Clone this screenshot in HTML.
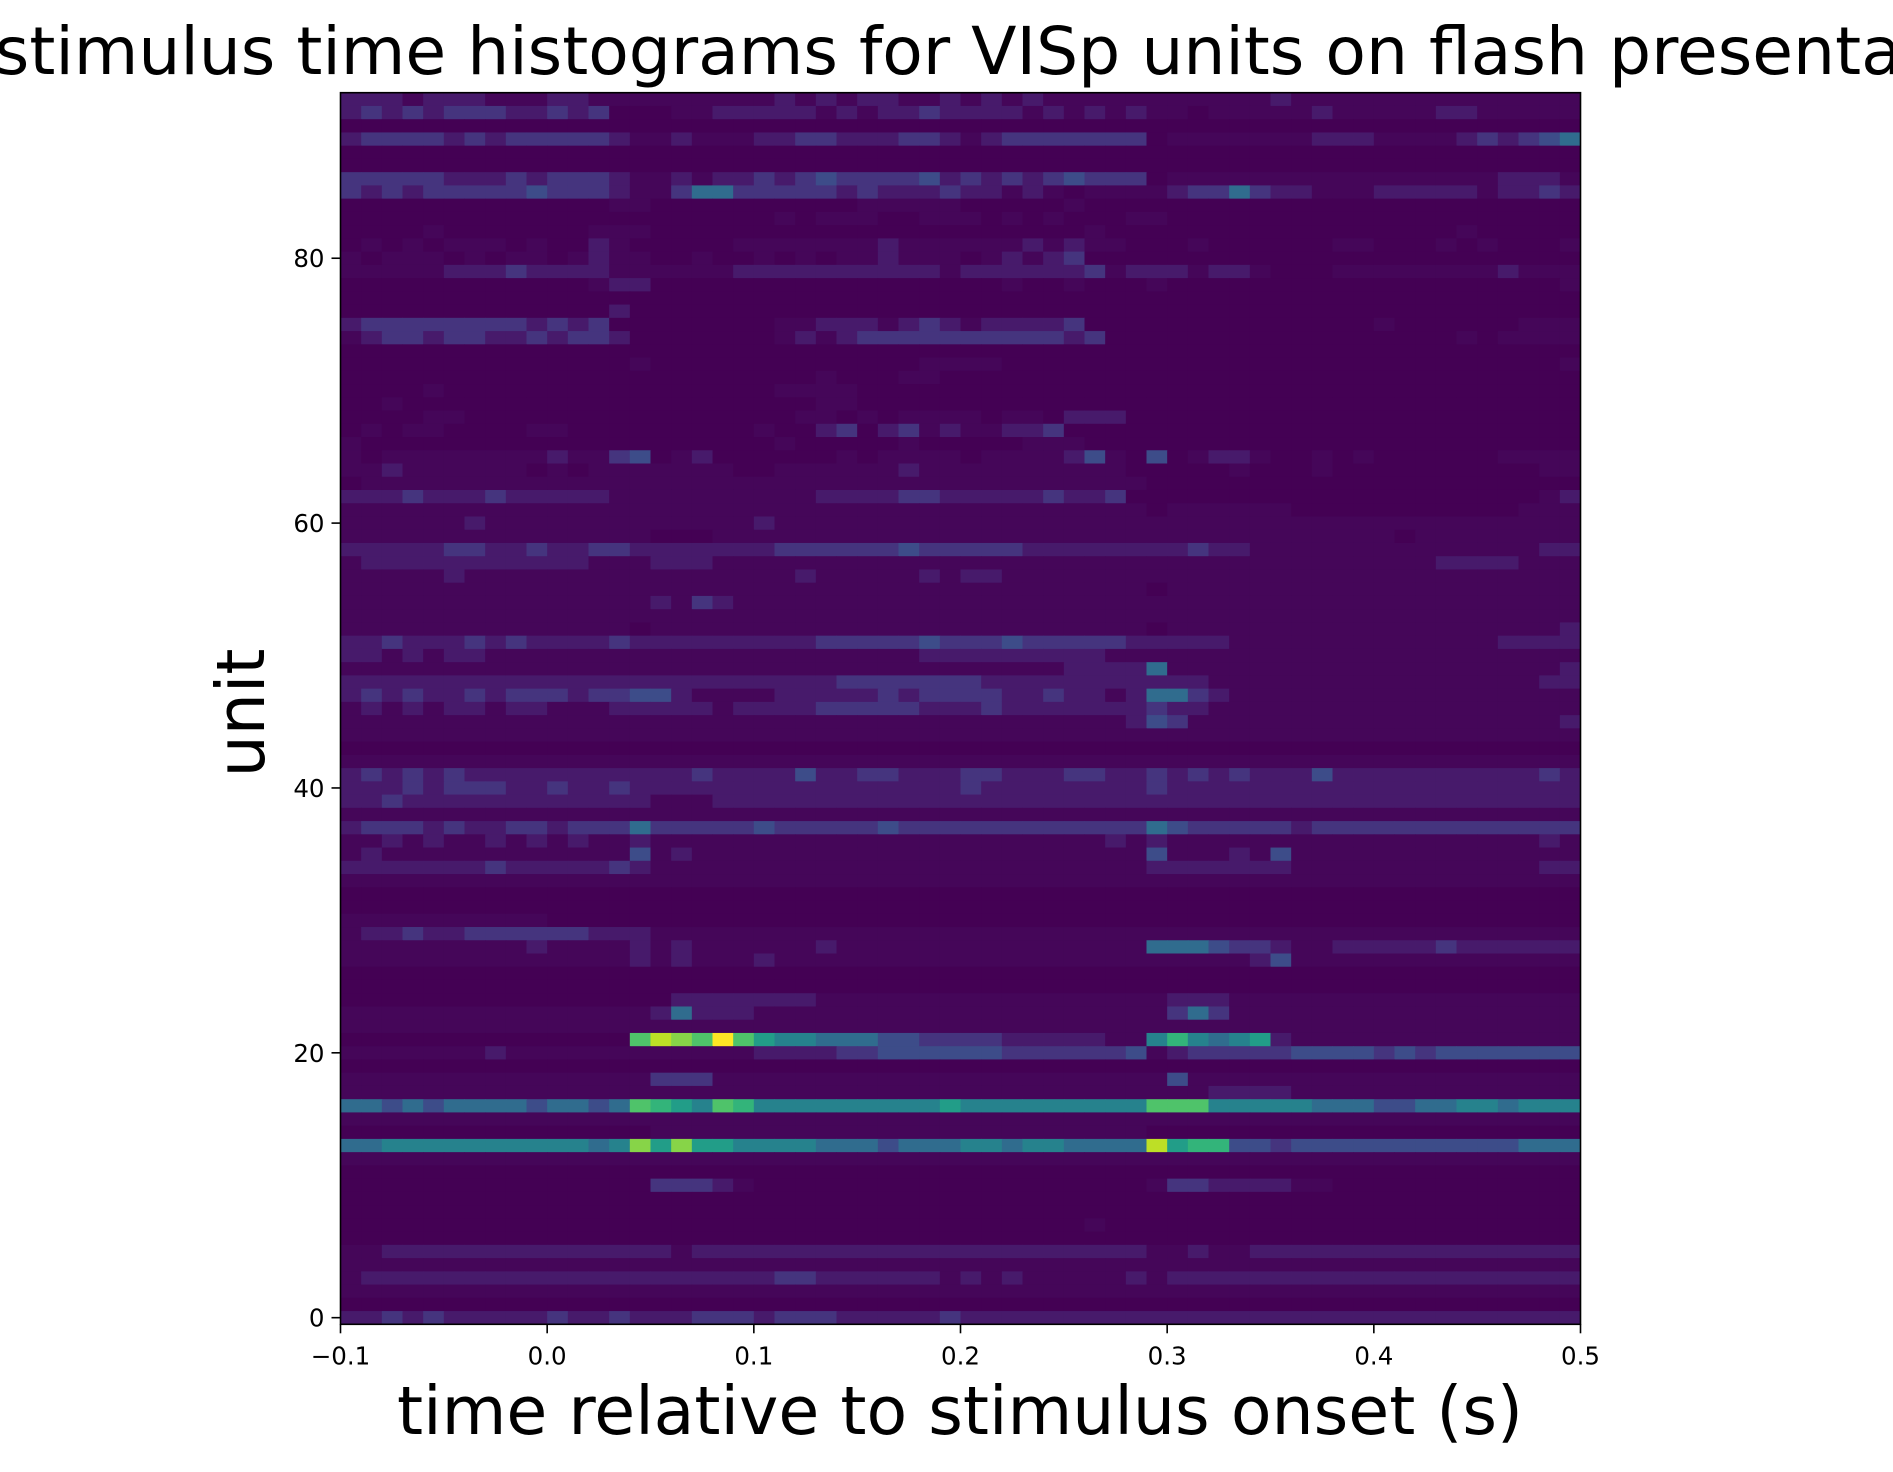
<!DOCTYPE html>
<html><head><meta charset="utf-8"><style>
html,body{margin:0;padding:0;background:#fff;}
svg{display:block;}
text{font-family:"DejaVu Sans","Liberation Sans",sans-serif;fill:#000;}
</style></head><body>
<svg id="chart" width="1893" height="1472" viewBox="0 0 1893 1472" xmlns="http://www.w3.org/2000/svg">
<text x="955" y="74" font-size="66.3" text-anchor="middle">Peri-stimulus time histograms for VISp units on flash presentations</text>
<g id="cells"></g>
<rect x="340.5" y="92.7" width="1240" height="1231.6" fill="none" stroke="#000" stroke-width="1.6"/>
<g id="xticks"></g>
<g id="yticks"></g>
<text x="960" y="1434" font-size="66.5" text-anchor="middle">time relative to stimulus onset (s)</text>
<text x="0" y="0" font-size="66.5" text-anchor="middle" transform="translate(264,713) rotate(-90)">unit</text>
</svg>
<script>
// rows listed from unit 92 (top) down to unit 0 (bottom); each char = intensity level 0..c (hex)
const unitRowsTopDown = [
"22212221112211 1111111212122112121211111 111111211111111111111",//92
"23232333223230 0011222221212232222121212 110111112111112211111",//91
"",//90
"23333232333332 1121112233222332123333333 011111112221111232345",//89
"",//88
"",//87
"33333222323332 1121223234333342323234333 011111111111111112221",//86
"32323333343332 1135533333232223221210111 123353221112222212232",//85
"00000000000001 1000000000011111000001000 0",//84
"00000000000000 0000000101110011101010001 1",//83
"00001000000011 1000000000000000000000100 000000000000000100000",//82
"01010111010021 0000011111112111111212110 001000000110001010001",//81
"10111010110121 1001001010112111012123000 000000000000000000000",//80
"11111222322221 1111122222222221222222312 221221000111111112111",//79
"00000000000012 2000000000000000001001000 100000000000000000001",//78
"",//77
"00000000000002 0",//76
"23333333323230 0000000112221232122223000 000000000001000000111",//75
"12332332232332 0000000121233333333332300 000000000000000101111",//74
"",//73
"00000000000000 1000000000000011110000000 000000000000000000001",//72
"00000000000000 0000000001000110000000",//71
"00001000000000 0000000111100",//70
"00100000000000 0000000001100000",//69
"00001100000000 0000000011010111101102220 000",//68
"01011000011000 0000001002302312112230000 0000000",//67
"10000000000000 0000000100000100000111000 0000",//66
"10111111112113 4012000000101111011112410 401221001010000001111",//65
"11211111101011 1111100111111211111111110 000010001000000000011",//64
"01111111111111 1111111111111111111111111 000000000000000000000",//63
"22232223222221 1111111112222332222232230 000000000000000000012",//62
"11111111111111 1111111111111111111111111 011111100000000000111",//61
"11111121111111 1111112111111111111111111 111111111111111111111",//60
"11111111111111 1000111111111111111111111 111111111111011111111",//59
"22222332232233 2222222333333433333222222 223221111111111111122",//58
"12222222222211 1222111111111111111111111 111111111111112222111",//57
"11111211111111 1111111121111121221111111 111111111111111111111",//56
"11111111111111 1111111111111111111111111 011111111111111111111",//55
"11111111111111 1213211111111111111111111 111111111111111111111",//54
"11111111111111 1111111111111111111111111 111111111111111111111",//53
"11111111111111 0111111111111111111111111 011111111111111111112",//52
"22322232322223 2222222223333343334333332 222211111111111112222",//51
"22121221111111 1111111111111122222222211 111111111111111111111",//50
"11111111111111 1111111111111111111112222 511111111111111111112",//49
"22222222222222 2222222222333333322222222 222111111111111111122",//48
"23232232333233 4421111222223233332232212 553211111111111111111",//47
"12121221221112 2222122223333322232222222 322111111111111111111",//46
"11111111111111 1111111111111111111111112 431111111111111111112",//45
"11111111111111 1111111111111111111111111 111111111111111111111",//44
"",//43
"11111111111111 1111111111111111111111111 111111111111111111111",//42
"23232322222222 2223222242233222332223322 323232224222222222232",//41
"22232333223223 2222222222222222322222222 322222222222222222222",//40
"22322222222222 2111222222222222222222222 222222222222222222222",//39
"11111111111111 1111111111111111111111111 111111111111111111111",//38
"23332322332333 5333334333334333333333333 543333323333333333333",//37
"11212112121211 2111111111111111111111121 211111111111111111121",//36
"12111111111111 4121111111111111111111111 411121411111111111111",//35
"22222223222223 2111111111111111111111111 222222211111111111122",//34
"11111111111111 1111111111111111111111111 111111111111111111111",//33
"",//32
"",//31
"11111111110000",//30
"12232233333322 2111111111111111111111111 111111111111111111111",//29
"11111111121111 2121111112111111111111111 555433211222223222222",//28
"11111111111111 2121112111111111111111111 111112411111111111111",//27
"",//26
"",//25
"00000000000000 0022222221111111111111111 122211111111111111111",//24
"11111111111111 1252221111111111111111111 135311111111111111111",//23
"11111111111111 1111111111111111111111111 111111111111111111111",//22
"00000000000000 9ba9c97665554433332222211 686567211111111111111",//21
"11111112111111 1111112222334444443333334 123333344443434444444",//20
"00000000000000",//19
"11111111111111 1333111111111111111111111 141111111111111111111",//18
"11111111111111 1111111111111111111111111 111222211111111111111",//17
"55454555545545 9876986666666667666666666 999666665554455665666",//16
"11111111111111 1111111111111111111111111 111111111111111111111",//15
"00000000000000 0111111111111111111111111 000000000000000000000",//14
"55666666666656 a7a7766665554555665665555 b78844344444444444555",//13
"11111111111111 1111111111111111111111111 111111111111111111111",//12
"",//11
"00000000000000 0333210000000000000000000 133222211000000000000",//10
"",//9
"",//8
"0000000000000000000000000000000000001",//7
"",//6
"11222222222222 2212222222222222222222222 112112222222222222222",//5
"11111111111111 1111111111111111111111111 111111111111111111111",//4
"12222222222222 2222222332222221212111112 122222222222222222222",//3
"11111111111111 1111111111111111111111111 111111111111111111111",//2
"",//1
"22323222223223 2223332333222223222222222 222222222222222222222" //0
];
const xTickValues = [-0.1, 0.0, 0.1, 0.2, 0.3, 0.4, 0.5];
const xTickLabels = ["\u22120.1", "0.0", "0.1", "0.2", "0.3", "0.4", "0.5"];
const yTickValues = [0, 20, 40, 60, 80];
const yTickLabels = ["0", "20", "40", "60", "80"];

const NS = "http://www.w3.org/2000/svg";
const X0 = 340.5, X1 = 1580.5, Y0 = 92.7, Y1 = 1324.3;
const nCols = 60, tMin = -0.1, tMax = 0.5;
const nRows = unitRowsTopDown.length;
function xScale(t){ return X0 + (t - tMin) / (tMax - tMin) * (X1 - X0); }
function yScale(u){ return Y1 - (u + 0.5) / nRows * (Y1 - Y0); }
const levelV = [0,0.015,0.07,0.15,0.23,0.35,0.44,0.55,0.65,0.72,0.82,0.9,1.0];
const vir = [[68,1,84],[72,36,117],[65,68,135],[53,95,141],[42,120,142],[33,145,140],[34,168,132],[68,191,112],[122,209,81],[189,223,38],[253,231,37]];
function viridis(v){
  v = Math.max(0, Math.min(1, v));
  const p = v * 10, i = Math.min(9, Math.floor(p)), f = p - i;
  const a = vir[i], b = vir[i+1];
  return "rgb(" + [0,1,2].map(k => Math.round(a[k] + (b[k]-a[k]) * f)).join(",") + ")";
}
const cellsG = document.getElementById("cells");
const cw = (X1 - X0) / nCols, ch = (Y1 - Y0) / nRows;
unitRowsTopDown.forEach((row, idx) => {
  const unit = nRows - 1 - idx;
  let s = row.replace(/\s/g, "");
  while (s.length < nCols) s += "0";
  for (let c = 0; c < nCols; c++) {
    const lvl = parseInt(s[c], 16) || 0;
    const t = tMin + c * (tMax - tMin) / nCols;
    const r = document.createElementNS(NS, "rect");
    r.setAttribute("x", xScale(t).toFixed(2));
    r.setAttribute("y", (yScale(unit) - ch / 2).toFixed(2));
    r.setAttribute("width", (cw + 0.5).toFixed(2));
    r.setAttribute("height", (ch + 0.5).toFixed(2));
    r.setAttribute("fill", viridis(levelV[Math.min(12, lvl)]));
    
    
    cellsG.appendChild(r);
  }
});
const xg = document.getElementById("xticks");
xTickValues.forEach((v, i) => {
  const x = xScale(v);
  const l = document.createElementNS(NS, "line");
  l.setAttribute("x1", x); l.setAttribute("x2", x);
  l.setAttribute("y1", Y1); l.setAttribute("y2", Y1 + 9);
  l.setAttribute("stroke", "#000"); l.setAttribute("stroke-width", "1.6");
  
  
  xg.appendChild(l);
  const t = document.createElementNS(NS, "text");
  t.setAttribute("x", x); t.setAttribute("y", Y1 + 40);
  t.setAttribute("font-size", "24.5"); t.setAttribute("text-anchor", "middle");
  t.textContent = xTickLabels[i];
  
  
  xg.appendChild(t);
});
const yg = document.getElementById("yticks");
yTickValues.forEach((v, i) => {
  const y = yScale(v);
  const l = document.createElementNS(NS, "line");
  l.setAttribute("x1", X0 - 9); l.setAttribute("x2", X0);
  l.setAttribute("y1", y); l.setAttribute("y2", y);
  l.setAttribute("stroke", "#000"); l.setAttribute("stroke-width", "1.6");
  
  
  yg.appendChild(l);
  const t = document.createElementNS(NS, "text");
  t.setAttribute("x", X0 - 16); t.setAttribute("y", y + 9);
  t.setAttribute("font-size", "24.5"); t.setAttribute("text-anchor", "end");
  t.textContent = yTickLabels[i];
  
  
  yg.appendChild(t);
});
</script>
</body></html>
